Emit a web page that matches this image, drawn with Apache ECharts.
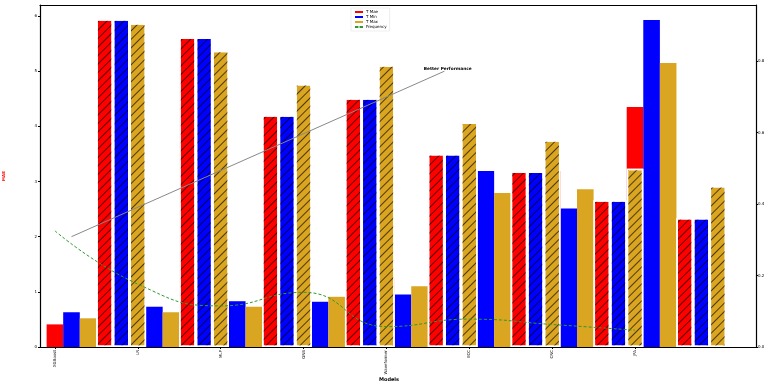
<!DOCTYPE html>
<html>
<head>
<meta charset="utf-8">
<script src="https://cdn.jsdelivr.net/npm/echarts@6/dist/echarts.min.js"></script>
<style>html,body{margin:0;padding:0;background:#fff}#c{width:768px;height:384px}</style>
</head>
<body>
<div id="c"></div>
<script>
const categories = ['XGBoost', 'LR', 'MLP', 'GNB', 'Waveformer', 'ECC', 'CNC', 'JPA'];
const legendNames = ['T Mae', 'T Min', 'T Max', 'Frequency'];
const solidMae = [0.41, 0.54, 0.60, 1.00, 1.25, 2.36, 3.19, 4.35];
const solidMin = [0.63, 0.73, 0.83, 0.82, 0.95, 3.19, 2.51, 5.93];
const solidMax = [0.52, 0.63, 0.73, 0.91, 1.10, 2.79, 2.86, 5.15];
const hatchMae = [5.94, 5.61, 4.20, 4.51, 3.50, 3.18, 2.66, 2.34];
const hatchMin = [5.94, 5.61, 4.20, 4.51, 3.50, 3.18, 2.66, 2.34];
const hatchMax = [5.87, 5.37, 4.77, 5.11, 4.07, 3.75, 3.23, 2.92];
const frequency = [0.325, 0.176, 0.115, 0.153, 0.057, 0.078, 0.063, 0.047];
const maeTicks = [0, 1, 2, 3, 4, 5, 6];
const freqTicks = [0.0, 0.2, 0.4, 0.6, 0.8];
const annotationText = 'Better Performance';
const annotationFrom = [0.2, 2.0];
const annotationTo = [4.7, 5.0];
const annotationTextAt = [4.74, 5.05];

const OFFSET_STEP = 0.2;
const RED = '#ff0000', BLUE = '#0000ff', GOLD = '#daa520', GREEN = '#2e9a2e';
const FONT = 'DejaVu Sans';
const BAR_W = 16.6;

function pos(values, k) {
  return values.map((v, i) => [i + k * OFFSET_STEP, v]);
}
const hatch = {
  symbol: 'rect', symbolSize: 1,
  dashArrayX: [[1, 0]], dashArrayY: [1, 5],
  rotation: -Math.PI / 4,
  color: 'rgba(0,0,0,0.65)'
};
function solidBar(name, values, k, color) {
  return {
    type: 'bar', name, data: pos(values, k), barWidth: BAR_W, barGap: '-100%',
    itemStyle: { color }, z: 2, silent: true
  };
}
function hatchBar(name, values, k, color) {
  return {
    type: 'bar', name, data: pos(values, k), barWidth: BAR_W, barGap: '-100%',
    itemStyle: { color, borderColor: '#fff', borderWidth: 1.5, decal: hatch }, z: 3, silent: true
  };
}
const axisLineStyle = { show: true, onZero: false, lineStyle: { color: '#000', width: 1.2 } };

const chart = echarts.init(document.getElementById('c'), null, { renderer: 'canvas' });
const xMin = -0.18, xMax = 8.46;
chart.setOption({
  animation: false,
  textStyle: { fontFamily: FONT },
  grid: { left: 40, right: 12, top: 5, bottom: 37, containLabel: false, outerBoundsMode: 'none' },
  title: {
    text: 'Models', left: 384, top: 372, textAlign: 'center',
    textStyle: { fontSize: 5, fontWeight: 'bold', fontFamily: FONT, color: '#000' }
  },
  legend: {
    orient: 'vertical', left: 351, top: 8, itemGap: 1, itemWidth: 8, itemHeight: 2,
    padding: [2, 3, 2, 3], borderColor: '#ddd', borderWidth: 0.5,
    textStyle: { fontSize: 4, fontFamily: FONT, color: '#000', padding: [0, 0, 0, -2] },
    data: [
      { name: legendNames[0], icon: 'rect', itemStyle: { color: RED } },
      { name: legendNames[1], icon: 'rect', itemStyle: { color: BLUE } },
      { name: legendNames[2], icon: 'rect', itemStyle: { color: GOLD } },
      { name: legendNames[3] }
    ]
  },
  xAxis: [
    {
      type: 'value', min: xMin, max: xMax, position: 'bottom',
      axisLine: axisLineStyle,
      splitLine: { show: false },
      axisTick: { show: true, length: 2, customValues: categories.map((c, i) => i), lineStyle: { color: '#000' } },
      axisLabel: {
        customValues: categories.map((c, i) => i), rotate: 90, fontSize: 4, color: '#000', margin: 3,
        formatter: v => categories[Math.round(v)] || ''
      }
    },
    {
      type: 'value', min: xMin, max: xMax, position: 'top',
      axisLine: axisLineStyle,
      splitLine: { show: false }, axisTick: { show: false }, axisLabel: { show: false }
    }
  ],
  yAxis: [
    {
      type: 'value', min: 0, max: 6.2, position: 'left',
      name: 'MAE', nameLocation: 'middle', nameGap: 34, nameRotate: 90,
      nameTextStyle: { color: RED, fontSize: 4, fontWeight: 'bold', fontFamily: FONT },
      axisLine: axisLineStyle,
      splitLine: { show: false },
      axisTick: { show: true, length: 2, customValues: maeTicks, lineStyle: { color: '#000' } },
      axisLabel: { customValues: maeTicks, fontSize: 4, color: '#000', margin: 3 }
    },
    {
      type: 'value', min: 0, max: 0.957, position: 'right',
      name: 'Frequency', nameLocation: 'middle', nameGap: 10, nameRotate: 90,
      nameTextStyle: { color: GREEN, fontSize: 4, fontWeight: 'bold', fontFamily: FONT },
      axisLine: axisLineStyle,
      splitLine: { show: false },
      axisTick: { show: true, length: 2, customValues: freqTicks, lineStyle: { color: '#000' } },
      axisLabel: { customValues: freqTicks, fontSize: 4, color: '#000', margin: 2, formatter: v => v.toFixed(1) }
    }
  ],
  series: [
    {
      type: 'line', name: '__annotation', data: [], silent: true, z: 1,
      markLine: {
        silent: true, symbol: ['none', 'none'], animation: false,
        lineStyle: { color: '#888', width: 1, type: 'solid' },
        label: { show: false },
        data: [[{ coord: annotationFrom }, { coord: annotationTo }]]
      },
      markPoint: {
        silent: true, symbol: 'circle', symbolSize: 0, animation: false,
        label: { show: true, position: 'inside', formatter: annotationText, fontSize: 4.3, fontWeight: 'bold', color: '#000', fontFamily: FONT },
        data: [{ coord: annotationTextAt }]
      }
    },
    solidBar(legendNames[0], solidMae, 0, RED),
    solidBar(legendNames[1], solidMin, 1, BLUE),
    solidBar(legendNames[2], solidMax, 2, GOLD),
    hatchBar(legendNames[0], hatchMae, 3, RED),
    hatchBar(legendNames[1], hatchMin, 4, BLUE),
    hatchBar(legendNames[2], hatchMax, 5, GOLD),
    {
      type: 'line', name: legendNames[3], yAxisIndex: 1,
      data: frequency.map((v, i) => [i, v]), smooth: true, showSymbol: false, symbol: 'none',
      lineStyle: { color: GREEN, width: 1, type: [3, 2] }, itemStyle: { color: GREEN }, z: 5, silent: true
    }
  ]
});
</script>
</body>
</html>
